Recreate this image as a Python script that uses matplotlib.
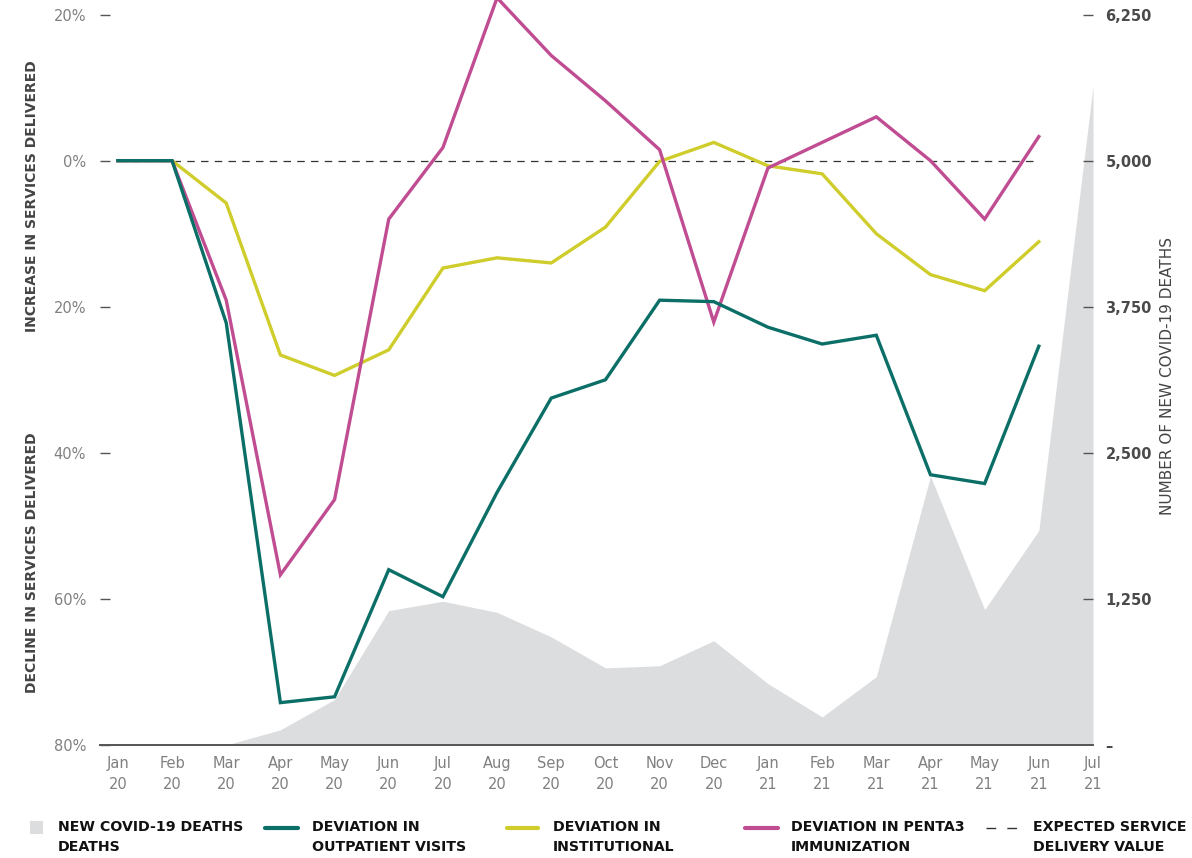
import matplotlib
matplotlib.use("Agg")
import matplotlib.pyplot as plt
from matplotlib.lines import Line2D
from matplotlib.patches import Rectangle
from matplotlib.ticker import FixedLocator, FuncFormatter

months = ["Jan\n20", "Feb\n20", "Mar\n20", "Apr\n20", "May\n20", "Jun\n20", "Jul\n20",
          "Aug\n20", "Sep\n20", "Oct\n20", "Nov\n20", "Dec\n20", "Jan\n21", "Feb\n21",
          "Mar\n21", "Apr\n21", "May\n21", "Jun\n21", "Jul\n21"]

# % deviation from expected service delivery (Jan 20 .. Jun 21)
outpatient = [0, 0, -22.2, -74.2, -73.4, -56.0, -59.7, -45.4, -32.5, -30.0, -19.1, -19.3,
              -22.8, -25.1, -23.9, -43.0, -44.2, -25.4]
institutional = [0, 0, -5.8, -26.6, -29.4, -25.9, -14.7, -13.3, -14.0, -9.1, -0.1, 2.5,
                 -0.7, -1.8, -10.0, -15.6, -17.8, -11.1]
penta3 = [0, 0, -19.1, -56.7, -46.4, -8.0, 1.8, 22.3, 14.4, 8.2, 1.5, -22.1,
          -1.0, 2.5, 6.0, 0, -8.0, 3.3]

# new covid-19 deaths (Jan 20 .. Jul 21)
deaths = [0, 0, 0, 130, 390, 1150, 1230, 1135, 925, 660, 678, 892,
          525, 240, 585, 2300, 1158, 1836, 5637]

pct_ticks = [20, 0, -20, -40, -60, -80]
death_ticks = [0, 1250, 2500, 3750, 5000, 6250]

TEAL = "#0b6f67"
YELLOW = "#cfcd2c"
PINK = "#c04c92"
GREY = "#dcdddf"
AXIS = "#555555"
TICKTXT = "#808080"

fig = plt.figure(figsize=(11.92, 8.58), dpi=100)
ax = fig.add_axes([100 / 1192, 113 / 858, 993 / 1192, 745 / 858])
ax2 = ax.twinx()

ymin, ymax = -80, 22
ax.set_ylim(ymin, ymax)
ax2.set_ylim(0, (ymax - ymin) / 20 * 1250)
ax.set_xlim(-0.33, 18.0)

x_all = list(range(len(months)))
ax2.fill_between(x_all, deaths, 0, color=GREY, linewidth=0, zorder=1)

ax.set_zorder(ax2.get_zorder() + 1)
ax.patch.set_visible(False)

x = list(range(len(outpatient)))
ax.plot(x, [0] * len(x), color="#333333", lw=0.9, dashes=(6, 5), zorder=2)
ax.plot(x, institutional, color=YELLOW, lw=2.4, zorder=3, clip_on=False, solid_joinstyle="miter")
ax.plot(x, penta3, color=PINK, lw=2.4, zorder=4, clip_on=False, solid_joinstyle="miter")
ax.plot(x, outpatient, color=TEAL, lw=2.4, zorder=5, clip_on=False, solid_joinstyle="miter")

for a in (ax, ax2):
    for s in ("top", "left", "right"):
        a.spines[s].set_visible(False)
ax.spines["bottom"].set_color(AXIS)
ax.spines["bottom"].set_linewidth(1.4)
ax2.spines["bottom"].set_visible(False)

ax.set_xticks(x_all)
ax.set_xticklabels(months, fontsize=10.5, color=TICKTXT, linespacing=1.45)
ax.tick_params(axis="x", length=0, pad=8)

ax.yaxis.set_major_locator(FixedLocator(pct_ticks))
ax.yaxis.set_major_formatter(FuncFormatter(lambda v, p: f"{abs(v):.0f}%"))
ax.tick_params(axis="y", direction="in", length=7, width=1, color=AXIS,
               labelsize=10.5, labelcolor=TICKTXT, pad=10)

ax2.yaxis.set_major_locator(FixedLocator(death_ticks))
ax2.yaxis.set_major_formatter(FuncFormatter(lambda v, p: "–" if v == 0 else f"{v:,.0f}"))
ax2.tick_params(axis="y", direction="in", length=7, width=1, color=AXIS,
                labelsize=10.5, labelcolor="#4a4a4a", pad=9)
for t in ax2.get_yticklabels():
    t.set_fontweight("bold")
ax2.yaxis.get_major_ticks()[0].tick2line.set_visible(False)

# axis titles
fig.text(32 / 1192, 1 - 196 / 858, "INCREASE IN SERVICES DELIVERED", rotation=90,
         ha="center", va="center", fontsize=10, fontweight="bold", color="#444444")
fig.text(32 / 1192, 1 - 563 / 858, "DECLINE IN SERVICES DELIVERED", rotation=90,
         ha="center", va="center", fontsize=10, fontweight="bold", color="#444444")
fig.text(1168 / 1192, 1 - 376 / 858, "NUMBER OF NEW COVID-19 DEATHS", rotation=90,
         ha="center", va="center", fontsize=11, color="#444444")

# legend
ly = 1 - 828 / 858
fig.patches.append(Rectangle((30 / 1192, 1 - 834 / 858), 13 / 1192, 13 / 858,
                             transform=fig.transFigure, color=GREY, lw=0))
items = [
    (265, 298, TEAL, None, 312, "DEVIATION IN\nOUTPATIENT VISITS"),
    (507, 538, YELLOW, None, 553, "DEVIATION IN\nINSTITUTIONAL"),
    (745, 778, PINK, None, 791, "DEVIATION IN PENTA3\nIMMUNIZATION"),
    (986, 1018, "#333333", (7, 8), 1033, "EXPECTED SERVICE\nDELIVERY VALUE"),
]
for x0, x1, col, dash, tx, label in items:
    ln = Line2D([x0 / 1192, x1 / 1192], [ly, ly], transform=fig.transFigure,
                color=col, lw=3 if dash is None else 1, solid_capstyle="round")
    if dash:
        ln.set_dashes(dash)
    fig.lines.append(ln)
    fig.text(tx / 1192, 1 - 820 / 858, label, ha="left", va="top", fontsize=10.2,
             fontweight="bold", color="#111111", linespacing=1.55)
fig.text(58 / 1192, 1 - 820 / 858, "NEW COVID-19 DEATHS\nDEATHS", ha="left", va="top",
         fontsize=10.2, fontweight="bold", color="#111111", linespacing=1.55)

fig.savefig("out.png", dpi=100)
